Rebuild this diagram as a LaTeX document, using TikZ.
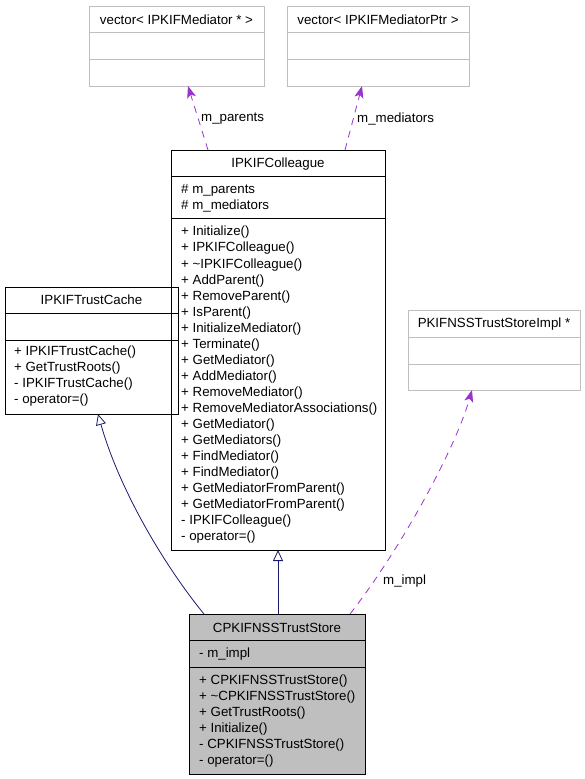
\documentclass[tikz,border=0pt]{standalone}
\usepackage{fontspec}
\setmainfont{Liberation Sans}
\usetikzlibrary{arrows.meta,calc}
\definecolor{edgegray}{HTML}{BFBFBF}
\definecolor{fillgray}{HTML}{BFBFBF}
\definecolor{inh}{HTML}{191970}
\definecolor{assoc}{HTML}{9A32CD}
\tikzset{
  cls/.style={draw=black, line width=0.9pt, anchor=north west, inner sep=0pt, outer sep=0pt},
  tcls/.style={draw=edgegray, line width=0.9pt, anchor=north west, inner sep=0pt, outer sep=0pt},
  txt/.style={anchor=west, inner sep=0pt, yshift=-1.5pt, font=\fontsize{13.3}{16}\selectfont},
  ttl/.style={anchor=center, inner sep=0pt, yshift=-1pt, font=\fontsize{13.3}{16}\selectfont},
  inhedge/.style={draw=inh, line width=0.8pt, -{Triangle[open,length=11pt,width=10pt]}},
  assocedge/.style={draw=assoc, line width=0.8pt, dash pattern=on 7pt off 6pt, -{Stealth[length=12pt,width=9pt,inset=3pt]}},
  lbl/.style={inner sep=0pt, yshift=-1pt, font=\fontsize{13.3}{16}\selectfont}
}
\begin{document}
\begin{tikzpicture}[x=1pt,y=-1pt]
\useasboundingbox (0,0) rectangle (584,779);
\fill[white] (0,0) rectangle (584,779);

% vector< IPKIFMediator * >
\node[tcls, minimum width=175pt, minimum height=80pt] (v1) at (89,6) {};
\draw[edgegray, line width=0.9pt] ($(v1.north west)+(0,26)$) -- ($(v1.north east)+(0,26)$);
\draw[edgegray, line width=0.9pt] ($(v1.north west)+(0,53)$) -- ($(v1.north east)+(0,53)$);
\node[ttl] (v1t) at (176.5,19) {vector< IPKIFMediator * >};

% vector< IPKIFMediatorPtr >
\node[tcls, minimum width=182pt, minimum height=80pt] (v2) at (287,6) {};
\draw[edgegray, line width=0.9pt] ($(v2.north west)+(0,26)$) -- ($(v2.north east)+(0,26)$);
\draw[edgegray, line width=0.9pt] ($(v2.north west)+(0,53)$) -- ($(v2.north east)+(0,53)$);
\node[ttl] (v2t) at (378,19) {vector< IPKIFMediatorPtr >};

% PKIFNSSTrustStoreImpl *
\node[tcls, minimum width=172pt, minimum height=80pt] (pi) at (408,310) {};
\draw[edgegray, line width=0.9pt] ($(pi.north west)+(0,27)$) -- ($(pi.north east)+(0,27)$);
\draw[edgegray, line width=0.9pt] ($(pi.north west)+(0,54)$) -- ($(pi.north east)+(0,54)$);
\node[ttl] (pit) at (494,323) {PKIFNSSTrustStoreImpl *};

% IPKIFColleague
\node[cls, minimum width=214pt, minimum height=400pt] (col) at (171,150) {};
\draw[line width=0.9pt] ($(col.north west)+(0,26)$) -- ($(col.north east)+(0,26)$);
\draw[line width=0.9pt] ($(col.north west)+(0,68)$) -- ($(col.north east)+(0,68)$);
\node[ttl] (colt) at (278,163) {IPKIFColleague};
\node[txt] (ca1) at (181,189) {\# m\_parents};
\node[txt] (ca2) at (181,205) {\# m\_mediators};
\foreach \t [count=\i from 0] in {+ Initialize(),+ IPKIFColleague(),+ \char`\~IPKIFColleague(),+ AddParent(),+ RemoveParent(),+ IsParent(),+ InitializeMediator(),+ Terminate(),+ GetMediator(),+ AddMediator(),+ RemoveMediator(),+ RemoveMediatorAssociations(),+ GetMediator(),+ GetMediators(),+ FindMediator(),+ FindMediator(),+ GetMediatorFromParent(),+ GetMediatorFromParent(),- IPKIFColleague(),- operator=()}
  \node[txt] (cm\i) at (181,{231+16.05*\i}) {\t};

% IPKIFTrustCache
\node[cls, minimum width=173pt, minimum height=127pt] (tc) at (5,287) {};
\draw[line width=0.9pt] ($(tc.north west)+(0,26)$) -- ($(tc.north east)+(0,26)$);
\draw[line width=0.9pt] ($(tc.north west)+(0,53)$) -- ($(tc.north east)+(0,53)$);
\node[ttl] (tct) at (91.5,299) {IPKIFTrustCache};
\node[txt] (tm0) at (14,351) {+ IPKIFTrustCache()};
\node[txt] (tm1) at (14,367) {+ GetTrustRoots()};
\node[txt] (tm2) at (14,383) {- IPKIFTrustCache()};
\node[txt] (tm3) at (14,399) {- operator=()};

% CPKIFNSSTrustStore
\node[cls, fill=fillgray, minimum width=176pt, minimum height=160pt] (cp) at (189,614) {};
\draw[line width=0.9pt] ($(cp.north west)+(0,26)$) -- ($(cp.north east)+(0,26)$);
\draw[line width=0.9pt] ($(cp.north west)+(0,53)$) -- ($(cp.north east)+(0,53)$);
\node[ttl] (cpt) at (277,627) {CPKIFNSSTrustStore};
\node[txt] (cpa) at (199,653) {- m\_impl};
\foreach \t [count=\i from 0] in {+ CPKIFNSSTrustStore(),+ \char`\~CPKIFNSSTrustStore(),+ GetTrustRoots(),+ Initialize(),- CPKIFNSSTrustStore(),- operator=()}
  \node[txt] (cpm\i) at (199,{680+16*\i}) {\t};

% connectors
\coordinate (cpA) at ($(cp.north west)+(15,0)$);
\coordinate (tcB) at ($(tc.south west)+(93,0)$);
\draw[inhedge] (cpA) .. controls (160,560) and (118,485) .. (tcB);
\draw[inhedge] (cp.north -| col.south) -- (col.south);

\coordinate (colP) at ($(col.north west)+(37,0)$);
\coordinate (v1B) at ($(v1.south west)+(99,0)$);
\draw[assocedge] (colP) -- (v1B);
\node[lbl, anchor=west] (lp) at (201,118) {m\_parents};

\coordinate (colM) at ($(col.north west)+(174,0)$);
\coordinate (v2B) at ($(v2.south west)+(75,0)$);
\draw[assocedge] (colM) -- (v2B);
\node[lbl, anchor=west] (lm) at (357,118) {m\_mediators};

\coordinate (cpI) at ($(cp.north west)+(161,0)$);
\coordinate (piB) at ($(pi.south west)+(64,0)$);
\draw[assocedge] (cpI) .. controls (400,550) and (455,450) .. (piB);
\node[lbl, anchor=west] (li) at (383,580) {m\_impl};
\end{tikzpicture}
\end{document}
